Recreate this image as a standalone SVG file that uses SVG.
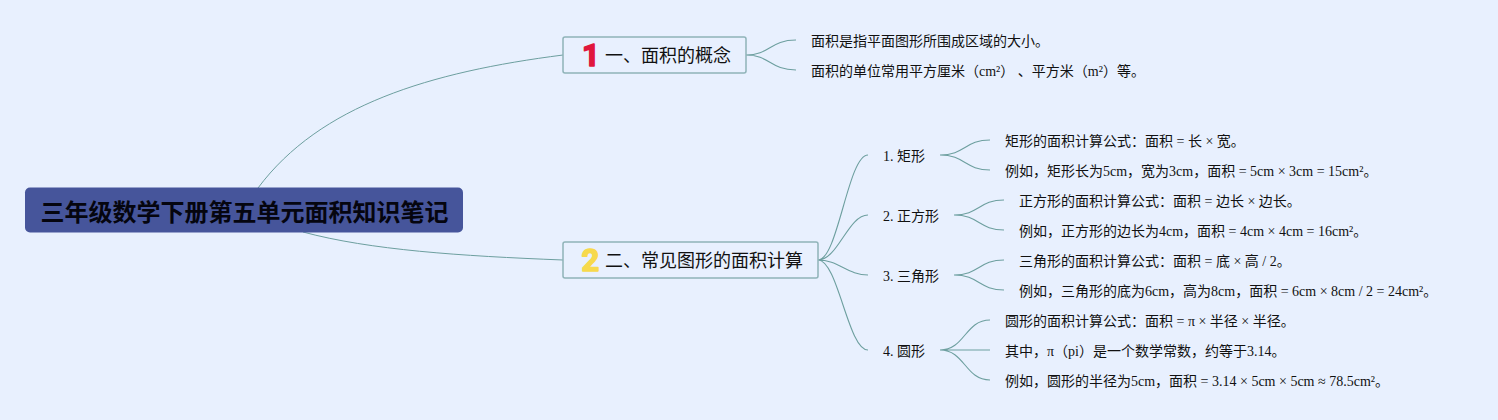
<svg xmlns="http://www.w3.org/2000/svg" width="1498" height="420" viewBox="0 0 1498 420">
<style>
text{font-family:"Liberation Serif","Noto Sans CJK SC",serif;fill:#111;font-size:14px}
.root{font-size:24px;font-weight:700;fill:#05050f;font-family:"Noto Sans CJK SC",sans-serif}
.main{font-size:18px;font-family:"Noto Sans CJK SC",sans-serif}
.box{fill:#e8f0fe;stroke:#8fb3b8;stroke-width:1.5}
.rootbox{fill:#46559b}
.num{font-family:Roboto,sans-serif;font-weight:700;font-size:31px;stroke-width:1.5;stroke-linejoin:round}
.c{fill:none;stroke:#6d9f9f;stroke-width:1}
.s{fill:none;stroke:#6d9f9f;stroke-width:1.1}
</style>
<rect width="1498" height="420" fill="#e8f0fe"/>
<g id="connectors">
<path class="c" d="M258 188C320 105 430 72 563 55"/>
<path class="c" d="M303 232C370 250 460 256 563 260"/>
<path class="s" d="M746 55C770 55 770 40 796 40M746 55C770 55 770 70 796 70"/>
<path class="s" d="M818 260C838 260 848 155 868 155M818 260C838 260 848 215 868 215M818 260C838 260 848 275 868 275M818 260C838 260 848 350 868 350"/>
<path class="s" d="M940 155C965 155 965 140 990 140M940 155C965 155 965 170 990 170"/>
<path class="s" d="M954 215C979 215 979 200 1004 200M954 215C979 215 979 230 1004 230"/>
<path class="s" d="M954 275C979 275 979 260 1004 260M954 275C979 275 979 290 1004 290"/>
<path class="s" d="M940 350C965 350 965 320 990 320M940 350H990M940 350C965 350 965 380 990 380"/>
</g>
<g id="root"><rect class="rootbox" x="25" y="187.500" width="438" height="45" rx="5"/><text class="root" x="40.500" y="221">三年级数学下册第五单元面积知识笔记</text></g>
<g id="n1"><rect class="box" x="563" y="37" width="183" height="36" rx="2"/><text class="num" x="582" y="66" style="fill:#e0173c;stroke:#e0173c">1</text><text class="main" x="605" y="62">一、面积的概念</text></g>
<g id="n2"><rect class="box" x="563" y="242" width="255" height="36" rx="2"/><text class="num" x="581.500" y="271" style="fill:#f7d94c;stroke:#f7d94c">2</text><text class="main" x="605" y="267">二、常见图形的面积计算</text></g>
<g id="l1"><text x="811" y="46">面积是指平面图形所围成区域的大小。</text></g>
<g id="l2"><text x="811" y="76">面积的单位常用平方厘米（cm²） 、平方米（m²）等。</text></g>
<g id="s1"><text x="883" y="161">1. 矩形</text></g>
<g id="s2"><text x="883" y="221">2. 正方形</text></g>
<g id="s3"><text x="883" y="281">3. 三角形</text></g>
<g id="s4"><text x="883" y="356">4. 圆形</text></g>
<g id="t1"><text x="1005" y="146">矩形的面积计算公式：面积 = 长 × 宽。</text></g>
<g id="t2"><text x="1005" y="176">例如，矩形长为5cm，宽为3cm，面积 = 5cm × 3cm = 15cm²。</text></g>
<g id="t3"><text x="1019" y="206">正方形的面积计算公式：面积 = 边长 × 边长。</text></g>
<g id="t4"><text x="1019" y="236">例如，正方形的边长为4cm，面积 = 4cm × 4cm = 16cm²。</text></g>
<g id="t5"><text x="1019" y="266">三角形的面积计算公式：面积 = 底 × 高 / 2。</text></g>
<g id="t6"><text x="1019" y="296">例如，三角形的底为6cm，高为8cm，面积 = 6cm × 8cm / 2 = 24cm²。</text></g>
<g id="t7"><text x="1005" y="326">圆形的面积计算公式：面积 = π × 半径 × 半径。</text></g>
<g id="t8"><text x="1005" y="356">其中，π（pi）是一个数学常数，约等于3.14。</text></g>
<g id="t9"><text x="1005" y="386">例如，圆形的半径为5cm，面积 = 3.14 × 5cm × 5cm ≈ 78.5cm²。</text></g>
</svg>
